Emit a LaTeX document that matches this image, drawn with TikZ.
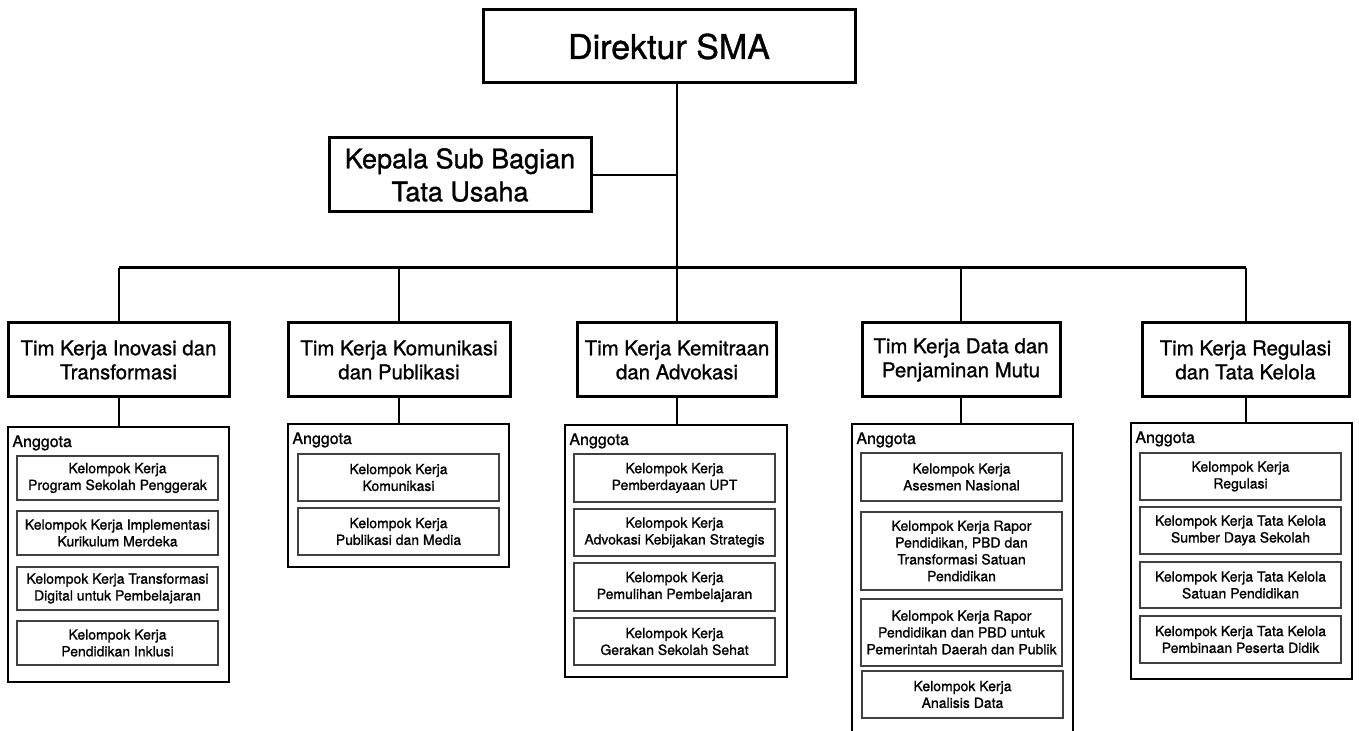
\documentclass[tikz,border=0pt]{standalone}
\usepackage{fontspec}
\setmainfont{TeX Gyre Heros}[FakeBold=1.1]
\begin{document}
\begin{tikzpicture}[x=0.5pt,y=-0.5pt]
          \useasboundingbox (0,0) rectangle (1359,731);
          % pimpinan
          \tikzstyle{every node} = [draw, line width=1.5pt, inner sep=0pt, align=center];
          \node[minimum width=186pt, minimum height=36.5pt, font=\fontsize{17}{20}\selectfont](dir) at (669,46.5) {Direktur SMA};
          \node[minimum width=131pt, minimum height=37pt, font=\fontsize{13.5}{16.5}\selectfont](tu) at (460,175) {Kepala Sub Bagian\\Tata Usaha};
          % tim kerja
          \tikzstyle{every node} = [draw, line width=1.5pt, inner sep=0pt, align=center, minimum height=37pt, font=\fontsize{10.2}{12}\selectfont];
          \node[minimum width=110.5pt](t1) at (118.5,360) {Tim Kerja Inovasi dan\\Transformasi};
          \node[minimum width=111pt](t2) at (399,360) {Tim Kerja Komunikasi\\dan Publikasi};
          \node[minimum width=99.5pt](t3) at (677,360) {Tim Kerja Kemitraan\\dan Advokasi};
          \node[minimum width=99pt](t4) at (961,360) {Tim Kerja Data dan\\Penjaminan Mutu};
          \node[minimum width=103.5pt](t5) at (1245.5,360) {Tim Kerja Regulasi\\dan Tata Kelola};
          % wadah anggota
          \tikzstyle{every node} = [draw, line width=1pt, inner sep=0pt];
          \node[minimum width=110.5pt, minimum height=127.5pt](a1) at (118.5,554.5) {};
          \node[minimum width=110.5pt, minimum height=71.5pt](a2) at (398.5,495.5) {};
          \node[minimum width=111pt, minimum height=126pt](a3) at (676,551) {};
          \node[minimum width=110.5pt, minimum height=156pt](a4) at (962.5,580) {};
          \node[minimum width=110.5pt, minimum height=128pt](a5) at (1241.5,551) {};
          \tikzstyle{every node} = [anchor=base west, inner sep=0pt, font=\fontsize{8}{9.6}\selectfont];
          \node(l1) at ([shift={(5,21)}]a1.north west) {Anggota};
          \node(l2) at ([shift={(5,21)}]a2.north west) {Anggota};
          \node(l3) at ([shift={(5,21)}]a3.north west) {Anggota};
          \node(l4) at ([shift={(5,21)}]a4.north west) {Anggota};
          \node(l5) at ([shift={(5,21)}]a5.north west) {Anggota};
          % kelompok kerja
          \tikzstyle{every node} = [draw=black!75, line width=0.75pt, inner sep=0pt, align=center, minimum width=100.5pt, font=\fontsize{7}{8.4}\selectfont];
          \node[minimum height=22pt](k11) at (117.5,478) {Kelompok Kerja\\Program Sekolah Penggerak};
          \node[minimum height=22pt](k12) at (117.5,533) {Kelompok Kerja Implementasi\\Kurikulum Merdeka};
          \node[minimum height=21.5pt](k13) at (117.5,588.5) {Kelompok Kerja Transformasi\\Digital untuk Pembelajaran};
          \node[minimum height=22pt](k14) at (117.5,643) {Kelompok Kerja\\Pendidikan Inklusi};
          \node[minimum height=23.5pt](k21) at (398.5,477.5) {Kelompok Kerja\\Komunikasi};
          \node[minimum height=23.5pt](k22) at (398.5,531.5) {Kelompok Kerja\\Publikasi dan Media};
          \node[minimum height=24pt](k31) at (674.5,478) {Kelompok Kerja\\Pemberdayaan UPT};
          \node[minimum height=23.5pt](k32) at (674.5,532.5) {Kelompok Kerja\\Advokasi Kebijakan Strategis};
          \node[minimum height=24pt](k33) at (674.5,587) {Kelompok Kerja\\Pemulihan Pembelajaran};
          \node[minimum height=23.5pt](k34) at (674.5,641.5) {Kelompok Kerja\\Gerakan Sekolah Sehat};
          \node[minimum height=24pt](k41) at (961.5,477) {Kelompok Kerja\\Asesmen Nasional};
          \node[minimum height=39pt](k42) at (961.5,551) {Kelompok Kerja Rapor\\Pendidikan, PBD dan\\Transformasi Satuan\\Pendidikan};
          \node[minimum height=33.5pt](k43) at (961.5,632.5) {Kelompok Kerja Rapor\\Pendidikan dan PBD untuk\\Pemerintah Daerah dan Publik};
          \node[minimum height=23.5pt](k44) at (962.5,694.5) {Kelompok Kerja\\Analisis Data};
          \node[minimum height=23.5pt](k51) at (1240.5,476.5) {Kelompok Kerja\\Regulasi};
          \node[minimum height=23.5pt](k52) at (1240.5,530.5) {Kelompok Kerja Tata Kelola\\Sumber Daya Sekolah};
          \node[minimum height=23pt](k53) at (1240.5,585) {Kelompok Kerja Tata Kelola\\Satuan Pendidikan};
          \node[minimum height=23.5pt](k54) at (1240.5,639.5) {Kelompok Kerja Tata Kelola\\Pembinaan Peserta Didik};
          \tikzstyle{every node} = []
          % garis
          \coordinate (hub) at (677,268);
          \coordinate (tuj) at (677,175);
          \path[line width=1pt]
          (dir.south -| hub) edge (hub);
          \path[line width=1pt]
          (tu.east) edge (tuj);
          \path[line width=1.5pt]
          (t1.north |- hub) edge (t5.north |- hub);
          \path[line width=1pt]
          (t1.north |- hub) edge (t1.north);
          \path[line width=1pt]
          (t2.north |- hub) edge (t2.north);
          \path[line width=1pt]
          (t3.north |- hub) edge (t3.north);
          \path[line width=1pt]
          (t4.north |- hub) edge (t4.north);
          \path[line width=1pt]
          (t5.north |- hub) edge (t5.north);
          \path[line width=1pt]
          (t1.south) edge (t1.south |- a1.north);
          \path[line width=1pt]
          (t2.south) edge (t2.south |- a2.north);
          \path[line width=1pt]
          (t3.south) edge (t3.south |- a3.north);
          \path[line width=1pt]
          (t4.south) edge (t4.south |- a4.north);
          \path[line width=1pt]
          (t5.south) edge (t5.south |- a5.north);
          \end{tikzpicture}
\end{document}
